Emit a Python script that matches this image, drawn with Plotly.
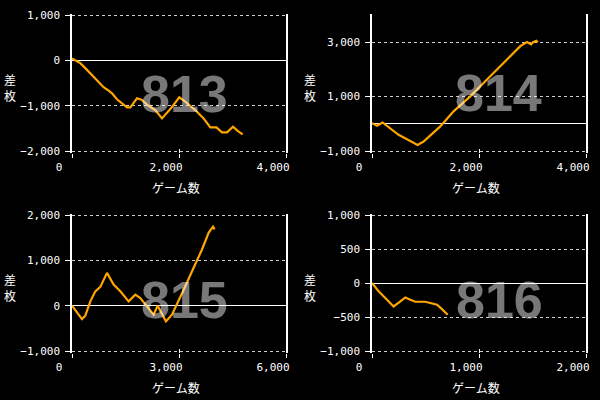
import plotly.graph_objects as go

# --- data ---
g813 = [0, 155, 280, 435, 590, 685, 748, 840, 1028, 1090, 1215, 1300, 1432, 1557, 1682, 1850, 2005, 2117, 2243, 2336, 2460, 2585, 2700, 2803, 2897, 3010, 3096, 3190]
v813 = [40, -62, -210, -395, -593, -668, -727, -860, -1036, -1036, -837, -870, -1007, -1096, -1280, -1058, -815, -912, -1036, -1133, -1280, -1479, -1479, -1590, -1590, -1465, -1554, -1634]

g814 = [0, 93, 198, 342, 497, 654, 852, 964, 1121, 1276, 1525, 1837, 2117, 2336, 2398, 2617, 2772, 2897, 2972, 3010, 3071, 3096]
v814 = [25, -74, 49, -160, -406, -565, -775, -650, -380, -97, 457, 1010, 1563, 1994, 2093, 2548, 2855, 3003, 2917, 3000, 3052, 2990]

g815 = [0, 140, 280, 373, 514, 654, 794, 981, 1167, 1354, 1588, 1775, 1915, 2102, 2289, 2401, 2523, 2635, 2803, 2989, 3177, 3410, 3645, 3830, 3954, 3999]
v815 = [0, -162, -295, -221, 95, 316, 413, 723, 465, 316, 95, 243, 170, -15, -199, 0, -199, -347, -199, 133, 428, 835, 1240, 1609, 1742, 1682]

g816 = [0, 62, 124, 202, 265, 311, 358, 405, 498, 561, 608, 654, 707]
v816 = [0, -123, -221, -345, -271, -212, -246, -276, -276, -295, -320, -384, -468]

labels = ["813", "814", "815", "816"]
x_ranges = [[0, 4000], [0, 4000], [0, 6000], [0, 2000]]
x_dticks = [2000, 2000, 3000, 1000]
y_ranges = [[-2000, 1000], [-1000, 4000], [-1000, 2000], [-1000, 1000]]
y_ticks = [[-2000, -1000, 0, 1000], [-1000, 1000, 3000], [-1000, 0, 1000, 2000], [-1000, -500, 0, 500, 1000]]
x_title = "ゲーム数"
y_title = "差<br>枚"

series = [(g813, v813), (g814, v814), (g815, v815), (g816, v816)]

W, H = 600, 400
# plot area pixel boxes (left, right, top, bottom)
boxes = [(72, 286, 15, 151), (372, 586, 15, 151), (72, 286, 215, 351), (372, 586, 215, 351)]
num_pos = [(184, 94.5), (498.5, 93), (184, 300), (499, 299.5)]
PAD = 1.5  # px of extra room so edge gridlines are drawn

fig = go.Figure()
tick_font = dict(family="DejaVu Sans Mono", size=11, color="white")
annotations = []
for i, ((gx, gy), box) in enumerate(zip(series, boxes)):
    n = i + 1
    xa = "x" if n == 1 else f"x{n}"
    ya = "y" if n == 1 else f"y{n}"
    fig.add_trace(go.Scatter(x=gx, y=gy, mode="lines", xaxis=xa, yaxis=ya,
                             line=dict(color="#FFA500", width=2.2), showlegend=False,
                             hoverinfo="skip"))
    l, r, t, b = box
    lo, hi = y_ranges[i]
    per_px = (hi - lo) / (b - t)
    yr = [lo - PAD * per_px, hi + PAD * per_px]
    xdom = [l / W, r / W]
    ydom = [1 - (b + PAD) / H, 1 - (t - PAD) / H]
    xkey = "xaxis" if n == 1 else f"xaxis{n}"
    ykey = "yaxis" if n == 1 else f"yaxis{n}"
    fig.update_layout(**{
        xkey: dict(domain=xdom, anchor=ya, range=x_ranges[i], dtick=x_dticks[i], tick0=0,
                   showgrid=False, zeroline=False, showline=False,
                   ticks="outside", ticklen=4, tickcolor="white", tickwidth=1.2,
                   tickformat=",d", tickfont=tick_font, automargin=False, fixedrange=True,
                   ticklabeloverflow="allow", ticklabelshift=-13),
        ykey: dict(domain=ydom, anchor=xa, range=yr, tickvals=y_ticks[i],
                   showgrid=True, gridcolor="#cccccc", griddash="3px,3px", gridwidth=1,
                   zeroline=True, zerolinecolor="white", zerolinewidth=1.2,
                   showline=True, linecolor="white", linewidth=1.5, mirror=True,
                   ticks="outside", ticklen=5, tickcolor="white", tickwidth=1.2,
                   tickformat=",d", tickfont=tick_font, automargin=False, fixedrange=True,
                   ticklabeloverflow="allow", ticklabelstandoff=3),
    })
    # overlay axis for inward x ticks
    ov = 4 + n
    fig.update_layout(**{
        f"xaxis{ov}": dict(domain=xdom, anchor=ya, overlaying=xa, range=x_ranges[i],
                           dtick=x_dticks[i], tick0=0, showgrid=False, zeroline=False,
                           showline=False, ticks="inside", ticklen=4, tickcolor="white",
                           tickwidth=1.2, showticklabels=False, automargin=False, fixedrange=True),
    })
    fig.add_trace(go.Scatter(x=[None], y=[None], xaxis=f"x{ov}", yaxis=ya, showlegend=False,
                             hoverinfo="skip"))
    # big number
    cx, cy = num_pos[i]
    annotations.append(dict(text=labels[i], x=cx / W, y=1 - cy / H, xref="paper", yref="paper",
                            xanchor="center", yanchor="middle", showarrow=False,
                            font=dict(family="Liberation Sans", size=52, color="rgba(255,255,255,0.47)",
                                      weight="bold")))
    # x title
    annotations.append(dict(text=x_title, x=(l + r) / 2 / W - 3 / W, y=1 - (b + 36) / H,
                            xref="paper", yref="paper", xanchor="center", yanchor="middle",
                            showarrow=False, font=dict(family="Noto Sans CJK JP", size=12, color="white")))
    # y title (stacked)
    annotations.append(dict(text=y_title, x=(l - 62) / W, y=1 - (t + 72) / H,
                            xref="paper", yref="paper", xanchor="center", yanchor="middle",
                            showarrow=False, font=dict(family="Noto Sans CJK JP", size=12, color="white")))

fig.update_layout(width=W, height=H, margin=dict(l=0, r=0, t=0, b=0),
                  paper_bgcolor="black", plot_bgcolor="black", annotations=annotations,
                  showlegend=False)

fig.write_html("out.html", config={"displayModeBar": False},
               post_script="document.body.style.margin='0';document.body.style.background='black';")
